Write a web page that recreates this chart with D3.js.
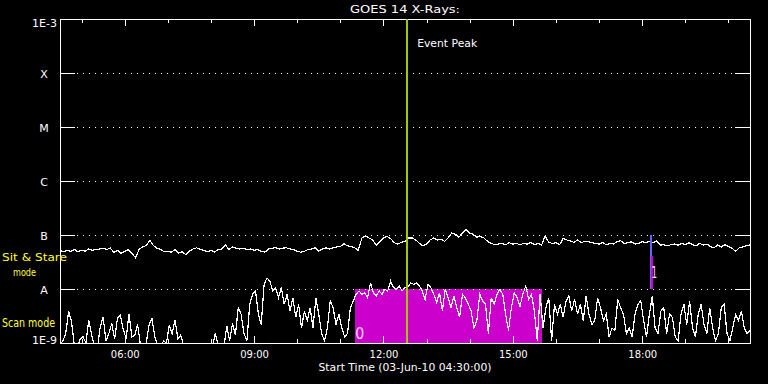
<!DOCTYPE html>
<html><head><meta charset="utf-8">
<script src="https://cdn.jsdelivr.net/npm/d3@7"></script>
<style>html,body{margin:0;padding:0;background:#000;}svg{display:block;}</style>
</head><body>
<svg id="chart" width="768" height="384"></svg>
<script>
// ---- data ----
const dayStr = "2010-06-03";
const startClock = "04:30";
const endClock = "20:30";
const longStepMin = 5;      // sit & stare channel, units of 1e-8 W/m^2
const longFlux = [
5.2,4.9,5.2,5.0,5.4,4.9,5.2,5.0,5.5,5.2,
5.4,5.5,5.7,5.4,5.7,4.8,5.2,4.6,5.0,5.4,
4.6,3.8,5.4,6.0,6.4,8.0,6.4,5.7,5.4,4.9,
5.0,4.8,5.4,4.6,4.9,4.35,5.0,5.5,5.8,5.4,
5.2,4.9,5.2,4.8,5.4,5.5,6.6,5.4,6.0,5.7,
5.5,5.7,5.4,5.5,5.2,5.4,5.0,4.8,5.5,5.7,
5.8,5.5,5.7,5.8,5.5,5.4,5.0,4.8,5.0,5.4,
5.5,5.8,5.0,5.5,5.8,5.5,5.8,6.0,6.1,6.9,
6.3,6.1,5.8,5.2,8.8,9.6,8.8,8.1,6.5,7.6,
8.8,9.4,8.6,7.2,6.8,7.3,7.6,8.8,8.8,8.1,
7.0,6.3,6.8,8.1,8.8,8.1,8.4,7.6,8.8,10.8,
10.3,9.1,10.8,12.8,10.8,10.3,9.1,9.4,8.8,7.6,
7.0,6.6,6.8,7.0,6.6,7.2,6.8,7.0,6.6,7.0,
6.8,7.3,6.6,7.0,6.5,9.6,7.3,7.0,7.2,6.6,
8.6,8.1,7.8,7.3,8.1,7.2,7.6,7.5,7.2,7.0,
6.8,7.2,6.6,7.0,6.8,7.6,7.8,7.0,7.2,7.5,
6.8,7.0,7.5,7.2,7.6,7.2,7.8,6.5,6.6,6.3,
6.6,6.8,6.5,7.0,6.6,7.2,6.6,6.3,7.0,6.5,
6.8,6.1,5.8,6.5,6.0,6.6,6.1,5.7,5.0,5.8,
6.0,6.3,6.6];
const shortStepMin = 4;     // scan channel, units of 1e-9 W/m^2
const shortFlux = [
0.9,1.1,1.5,3.9,2.5,0.9,0.8,1.2,1.3,1.0,
2.7,1.4,0.9,0.8,2.0,3.0,1.1,1.5,2.3,1.2,
2.9,3.3,1.8,1.2,3.5,1.3,1.4,2.2,0.9,0.8,
1.0,2.2,2.8,1.3,0.9,0.8,1.1,1.0,2.1,1.5,
2.7,1.2,1.4,0.9,0.8,0.8,0.9,0.8,0.8,0.8,
0.8,0.9,0.8,0.8,1.5,0.9,0.8,0.8,2.1,1.1,
2.3,1.4,
4.5,3.4,1.5,1.1,5.2,8.0,9.2,3.4,
2.2,12.2,16,14,9.2,10.6,6.9,10.6,5.2,8.0,
3.9,6.9,3.0,5.2,1.9,3.9,2.6,4.5,1.9,6.9,
3.4,1.5,1.1,1.9,6.0,4.5,2.2,3.4,1.9,1.3,
1.5,4.5,6.0,8.0,9.2,8.0,8.5,6.9,13,8.5,
7.4,9.2,8.0,9.9,9.2,14,10.6,9.9,11.4,9.2,
10.6,10.8,
13.0,12.2,13.0,11.4,9.2,6.4,12.2,10.6,
8.0,5.6,8.5,3.9,9.9,6.9,4.5,7.4,4.5,3.0,
8.0,6.9,5.2,3.9,1.9,2.6,8.0,6.0,5.2,1.5,
6.9,5.2,8.0,9.9,8.0,3.4,1.7,4.5,8.5,6.9,
4.8,8.0,11.4,6.4,8.0,3.9,1.1,8.0,1.9,4.5,
6.9,1.1,5.2,3.4,5.2,3.0,6.0,7.4,3.9,6.4,
3.4,5.2,2.6,
7.4,3.4,2.2,2.6,6.9,4.5,2.6,
3.4,1.3,1.9,1.7,6.4,4.5,3.4,1.5,1.9,1.3,
3.4,5.2,6.0,2.6,1.3,3.4,7.4,1.9,1.5,3.9,
4.5,1.5,3.4,3.0,1.3,1.1,3.4,5.2,2.2,6.0,
1.9,1.3,3.4,5.2,2.2,1.5,4.5,1.9,1.1,1.5,
4.5,5.2,1.5,1.1,1.9,3.4,2.6,3.9,1.9,1.5,
1.7];
const yTickValues = [1e-9,1e-8,1e-7,1e-6,1e-5,1e-4,1e-3];
const yTickLabels = ["1E-9","A","B","C","M","X","1E-3"];
const xTickLabels = ["06:00","09:00","12:00","15:00","18:00"];
const xMinorTicks = ["05:00","06:00","07:00","08:00","09:00","10:00","11:00","12:00","13:00","14:00","15:00","16:00","17:00","18:00","19:00","20:00"];
const eventPeakClock = "12:33";
const scanBlockClock = ["11:20","15:41"];
const scanBlockFlux = [1e-9, 1e-8];
const scanBlockLabel = "0";
const stareLineClock = "18:12";
const stareLineFlux = [1e-8, 1e-7];
const stareMarkClock = "18:14";
const stareMarkFlux = [1e-8, 4.1e-8];
const stareMarkLabel = "1";

// ---- drawing ----
const FONT = "DejaVu Sans";
const T = c => new Date(dayStr + "T" + c + ":00");
const t0 = T(startClock), t1 = T(endClock);
const svg = d3.select("#chart");
svg.append("rect").attr("width",768).attr("height",384).attr("fill","#000");

const x = d3.scaleTime().domain([t0,t1]).range([60,750]);
const y = d3.scaleLog().domain([1e-9,1e-3]).range([343,19]);

svg.append("defs").append("clipPath").attr("id","plot")
  .append("rect").attr("x",60).attr("y",19).attr("width",690).attr("height",324);

// scan block
svg.append("rect")
  .attr("x",Math.round(x(T(scanBlockClock[0]))))
  .attr("y",Math.round(y(scanBlockFlux[1])))
  .attr("width",Math.round(x(T(scanBlockClock[1])))-Math.round(x(T(scanBlockClock[0]))))
  .attr("height",Math.round(y(scanBlockFlux[0]))-Math.round(y(scanBlockFlux[1])))
  .attr("fill","#cc00cc");

// gridlines
const inner = yTickValues.slice(1,-1);
svg.append("g").selectAll("line").data(inner).join("line")
  .attr("x1",77).attr("x2",734)
  .attr("y1",d=>Math.round(y(d))+0.5).attr("y2",d=>Math.round(y(d))+0.5)
  .attr("stroke","#fff").attr("stroke-dasharray","1 5").attr("shape-rendering","crispEdges");

// data lines
const longData = longFlux.map((v,i)=>({t:new Date(+t0 + i*longStepMin*60000), v:v*1e-8}));
const shortData = shortFlux.map((v,i)=>({t:new Date(+t0 + i*shortStepMin*60000), v:v*1e-9}));
const line = d3.line().x(d=>x(d.t)).y(d=>y(d.v));
const gData = svg.append("g").attr("clip-path","url(#plot)");
[longData, shortData].forEach(ds=>{
  gData.append("path").datum(ds).attr("d",line)
    .attr("fill","none").attr("stroke","#fff").attr("stroke-width",1.2)
    .attr("shape-rendering","crispEdges");
});

// stare mode lines
svg.append("line")
  .attr("x1",x(T(stareLineClock))).attr("x2",x(T(stareLineClock)))
  .attr("y1",y(stareLineFlux[1])).attr("y2",y(stareLineFlux[0]))
  .attr("stroke","#6464ff").attr("stroke-width",2).attr("shape-rendering","crispEdges");
svg.append("line")
  .attr("x1",x(T(stareMarkClock))).attr("x2",x(T(stareMarkClock)))
  .attr("y1",y(stareMarkFlux[1])).attr("y2",y(stareMarkFlux[0]))
  .attr("stroke","#cc00cc").attr("stroke-width",2).attr("shape-rendering","crispEdges");

// axes
function styleAxis(g){
  g.select(".domain").remove();
  g.selectAll("line").attr("stroke","#fff").attr("shape-rendering","crispEdges");
  g.selectAll("text").attr("fill","#fff").attr("font-family",FONT);
}
const yAx = svg.append("g").attr("transform","translate(60,0)")
  .call(d3.axisLeft(y).tickValues(yTickValues).tickFormat((d,i)=>yTickLabels[i]).tickSize(-15).tickPadding(3))
  .call(styleAxis);
yAx.attr("font-size",11);
yAx.selectAll("text").each(function(d,i){
  const t = d3.select(this);
  const lab = yTickLabels[i];
  if (lab.length === 1) { t.attr("text-anchor","middle").attr("x",-16).attr("dy","0.38em"); }
  else { t.attr("x",-3); t.attr("dy", i===0 ? "0em" : "0.66em"); }
});
svg.append("g").attr("transform","translate(750,0)")
  .call(d3.axisRight(y).tickValues(yTickValues).tickFormat("").tickSize(-15)).call(styleAxis);

const majors = xTickLabels.map(T);
const minors = xMinorTicks.map(T);
svg.append("g").attr("transform","translate(0,19)")
  .call(d3.axisTop(x).tickValues(minors).tickFormat("").tickSize(-4)).call(styleAxis);
svg.append("g").attr("transform","translate(0,19)")
  .call(d3.axisTop(x).tickValues(majors).tickFormat("").tickSize(-7)).call(styleAxis);
svg.append("g").attr("transform","translate(0,343)")
  .call(d3.axisBottom(x).tickValues(minors).tickFormat("").tickSize(-4)).call(styleAxis);
const xb = svg.append("g").attr("transform","translate(0,343)")
  .call(d3.axisBottom(x).tickValues(majors).tickFormat((d,i)=>xTickLabels[i]).tickSize(-7).tickPadding(8))
  .call(styleAxis);
xb.attr("font-size",10);

// frame
svg.append("rect").attr("x",60.5).attr("y",19.5).attr("width",690).attr("height",324)
  .attr("fill","none").attr("stroke","#fff").attr("shape-rendering","crispEdges");

// event peak
const xp = x(T(eventPeakClock));
svg.append("line").attr("x1",xp).attr("x2",xp).attr("y1",19).attr("y2",343)
  .attr("stroke","#9ccc00").attr("stroke-width",2).attr("shape-rendering","crispEdges");

// texts
function txt(s, xx, yy, opts){
  const t = svg.append("text").attr("x",xx).attr("y",yy).text(s)
    .attr("font-family",FONT).attr("font-size",opts.size||10).attr("fill",opts.fill||"#fff")
    .attr("text-anchor",opts.anchor||"start");
  if (opts.len) t.attr("textLength",opts.len).attr("lengthAdjust","spacingAndGlyphs");
  return t;
}
txt("GOES 14 X-Rays:", 405, 13, {size:11, anchor:"middle", len:110});
txt("Start Time (03-Jun-10 04:30:00)", 405, 371, {size:10.5, anchor:"middle", len:173});
txt("Event Peak", xp+10, 47, {size:10.5, len:60});
txt("Sit & Stare", 2, 261, {size:11, fill:"#ffff33", len:65});
txt("mode", 13, 276, {size:11, fill:"#ffff33", len:23});
txt("Scan mode", 2, 327, {size:12, fill:"#ffff33", len:53});
txt(scanBlockLabel, x(T(scanBlockClock[0]))+0.5, 339, {size:15, fill:"#ffd6ff", len:9});
txt(stareMarkLabel, x(T(stareMarkClock))-1, 278, {size:15, fill:"#ffd6ff", len:6});
</script>
</body></html>
